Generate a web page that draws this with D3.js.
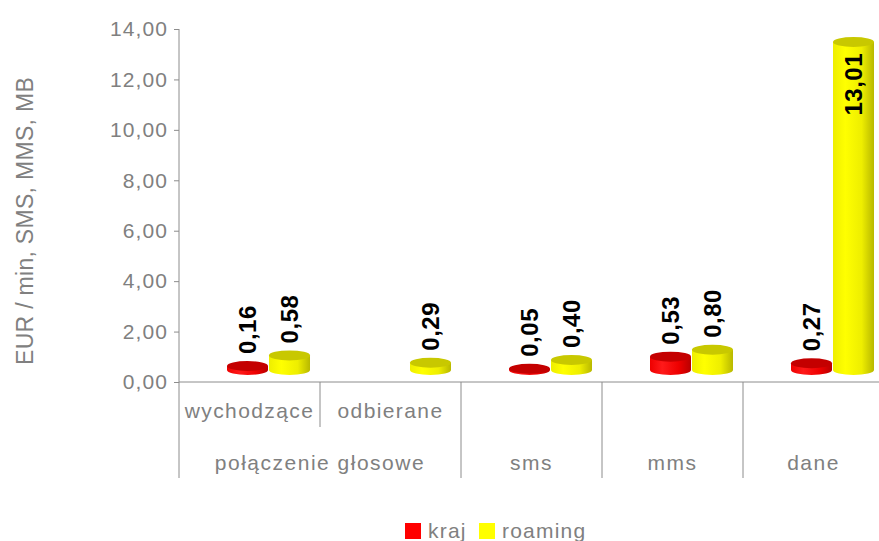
<!DOCTYPE html>
<html>
<head>
<meta charset="utf-8">
<script src="https://cdn.jsdelivr.net/npm/d3@7"></script>
<style>
  body { margin: 0; background: #fff; }
  text { font-family: "Liberation Sans", Arial, sans-serif; }
</style>
</head>
<body>
<svg id="chart"></svg>
<script>
// sub categories (only the first group has visible sub labels)
const subLabels = ['wychodzące', 'odbierane', '', '', ''];
const groupLabels = ['połączenie głosowe', 'sms', 'mms', 'dane'];
const groupSizes = [2, 1, 1, 1];
const seriesNames = ['kraj', 'roaming'];
const kraj = [0.16, null, 0.05, 0.53, 0.27];
const roaming = [0.58, 0.29, 0.40, 0.80, 13.01];
const yTicks = [0, 2, 4, 6, 8, 10, 12, 14];
const yTitle = 'EUR / min, SMS, MMS, MB';

class Bar3DChart {

    constructor( config ) {
        this.config = {
            parent: config.parent,
            width: config.width || 879,
            height: config.height || 541,
            margin: config.margin || {top:29, right:-5, bottom:159, left:179}
        }
        this.init();
    }

    init() {
        let self = this;
        const c = self.config;

        self.svg = d3.select( c.parent )
            .attr('width', c.width)
            .attr('height', c.height);

        self.inner_width = c.width - c.margin.left - c.margin.right;
        self.inner_height = c.height - c.margin.top - c.margin.bottom;

        self.xscale = d3.scaleBand()
            .domain( d3.range(subLabels.length) )
            .range( [c.margin.left, c.margin.left + self.inner_width] )
            .padding(0);

        self.sscale = d3.scaleBand()
            .domain( seriesNames )
            .range( [-23, 61] );

        self.yscale = d3.scaleLinear()
            .domain( [0, 14] )
            .range( [c.margin.top + self.inner_height, c.margin.top] );

        self.colors = {
            kraj: {light:'#ff1a1a', mid:'#ee0000', dark:'#b80000', top:'#c40000'},
            roaming: {light:'#ffff00', mid:'#eeee00', dark:'#b8b800', top:'#c8c800'}
        };

        const defs = self.svg.append('defs');
        seriesNames.forEach(s => {
            const g = defs.append('linearGradient')
                .attr('id', 'grad-' + s)
                .attr('x1', '0%').attr('x2', '100%')
                .attr('y1', '0%').attr('y2', '0%');
            g.append('stop').attr('offset', '0%').attr('stop-color', self.colors[s].mid);
            g.append('stop').attr('offset', '30%').attr('stop-color', self.colors[s].light);
            g.append('stop').attr('offset', '70%').attr('stop-color', self.colors[s].mid);
            g.append('stop').attr('offset', '100%').attr('stop-color', self.colors[s].dark);
        });
    }

    render() {
        let self = this;
        const c = self.config;
        const axisColor = '#8c8c8c';
        const textColor = '#808080';
        const y0 = self.yscale(0);
        const xLeft = c.margin.left;
        const xRight = c.width;
        const bw = self.xscale.bandwidth();

        // y axis
        const yaxis = d3.axisLeft( self.yscale )
            .tickValues( yTicks )
            .tickSize(5)
            .tickPadding(6)
            .tickFormat( d => d3.format('.2f')(d).replace('.', ',') );

        const yg = self.svg.append('g')
            .attr('transform', `translate(${xLeft}, 0)`)
            .call(yaxis);
        yg.select('.domain').remove();
        yg.selectAll('line').attr('stroke', axisColor);
        yg.selectAll('text')
            .attr('fill', textColor)
            .attr('font-size', 21)
            .attr('letter-spacing', 1.1)
            .attr('font-family', '"Liberation Sans", Arial, sans-serif');

        // axis lines
        self.svg.append('line')
            .attr('x1', xLeft).attr('x2', xLeft)
            .attr('y1', self.yscale(14)).attr('y2', 478)
            .attr('stroke', axisColor);
        self.svg.append('line')
            .attr('x1', xLeft).attr('x2', xRight)
            .attr('y1', y0).attr('y2', y0)
            .attr('stroke', axisColor);

        // category dividers
        let idx = 0;
        const groupBounds = groupSizes.map(n => {
            const b = [idx, idx + n];
            idx += n;
            return b;
        });
        groupBounds.forEach((b, i) => {
            if (i > 0) {
                self.svg.append('line')
                    .attr('x1', self.xscale(b[0])).attr('x2', self.xscale(b[0]))
                    .attr('y1', y0).attr('y2', 478)
                    .attr('stroke', axisColor);
            }
            const gx0 = self.xscale(b[0]);
            const gx1 = self.xscale(b[1] - 1) + bw;
            self.svg.append('text')
                .attr('x', (gx0 + gx1) / 2)
                .attr('y', 470)
                .attr('text-anchor', 'middle')
                .attr('font-size', 21)
                .attr('letter-spacing', 1.5)
                .attr('fill', textColor)
                .text(groupLabels[i]);
            // sub dividers within the group
            for (let k = b[0] + 1; k < b[1]; k++) {
                self.svg.append('line')
                    .attr('x1', self.xscale(k)).attr('x2', self.xscale(k))
                    .attr('y1', y0).attr('y2', 427)
                    .attr('stroke', axisColor);
            }
        });

        self.svg.selectAll('.sublabel')
            .data(subLabels)
            .join('text')
            .attr('class', 'sublabel')
            .attr('x', (d, i) => self.xscale(i) + bw / 2)
            .attr('y', 418)
            .attr('text-anchor', 'middle')
            .attr('font-size', 21)
            .attr('letter-spacing', 1.4)
            .attr('fill', textColor)
            .text(d => d);

        // y title
        self.svg.append('text')
            .attr('transform', 'rotate(-90)')
            .attr('x', -221)
            .attr('y', 33)
            .attr('text-anchor', 'middle')
            .attr('font-size', 23)
            .attr('letter-spacing', 0.3)
            .attr('fill', textColor)
            .text(yTitle);

        // bars
        const shift = 12, ry = 5, w = 41;
        const data = [];
        subLabels.forEach((s, i) => {
            if (kraj[i] != null) data.push({series:'kraj', i:i, value:kraj[i]});
            if (roaming[i] != null) data.push({series:'roaming', i:i, value:roaming[i]});
        });

        const bars = self.svg.selectAll('.bar')
            .data(data)
            .join('g')
            .attr('class', 'bar');

        bars.each(function(d) {
            const g = d3.select(this);
            const cx = self.xscale(d.i) + bw / 2 + self.sscale(d.series) + self.sscale.bandwidth() / 2;
            const top = self.yscale(d.value) - shift;
            const base = y0 - shift;
            const l = cx - w / 2, r = cx + w / 2;
            g.append('path')
                .attr('d', `M${l},${top} L${l},${base} A${w/2},${ry} 0 0 0 ${r},${base} L${r},${top} Z`)
                .attr('fill', `url(#grad-${d.series})`);
            g.append('ellipse')
                .attr('cx', cx).attr('cy', top)
                .attr('rx', w / 2).attr('ry', ry)
                .attr('fill', self.colors[d.series].top);
            d.cx = cx;
            d.top = top;
        });

        // value labels
        bars.append('text')
            .attr('transform', 'rotate(-90)')
            .attr('font-size', 24)
            .attr('font-weight', 'bold')
            .attr('letter-spacing', 0.5)
            .attr('fill', '#000')
            .attr('dy', '0.36em')
            .attr('y', d => d.cx)
            .each(function(d) {
                const t = d3.select(this);
                const label = d3.format('.2f')(d.value).replace('.', ',');
                t.text(label);
                const capTop = d.top - ry;
                if (capTop - 70 < c.margin.top) {
                    t.attr('text-anchor', 'end').attr('x', -(capTop + 16));
                } else {
                    t.attr('text-anchor', 'start').attr('x', -(capTop - 7));
                }
            });

        // legend
        const legend = [
            {name:'kraj', x:405, color:'#ff0000'},
            {name:'roaming', x:479, color:'#ffff00'}
        ];
        const lg = self.svg.selectAll('.legend')
            .data(legend)
            .join('g')
            .attr('class', 'legend');
        lg.append('rect')
            .attr('x', d => d.x).attr('y', 523)
            .attr('width', 16).attr('height', 16)
            .attr('fill', d => d.color);
        lg.append('text')
            .attr('x', d => d.x + 23).attr('y', 538)
            .attr('font-size', 21)
            .attr('letter-spacing', 1.2)
            .attr('fill', textColor)
            .text(d => d.name);
    }
}

const chart = new Bar3DChart({ parent: '#chart', width: 879, height: 541 });
chart.render();
</script>
</body>
</html>
